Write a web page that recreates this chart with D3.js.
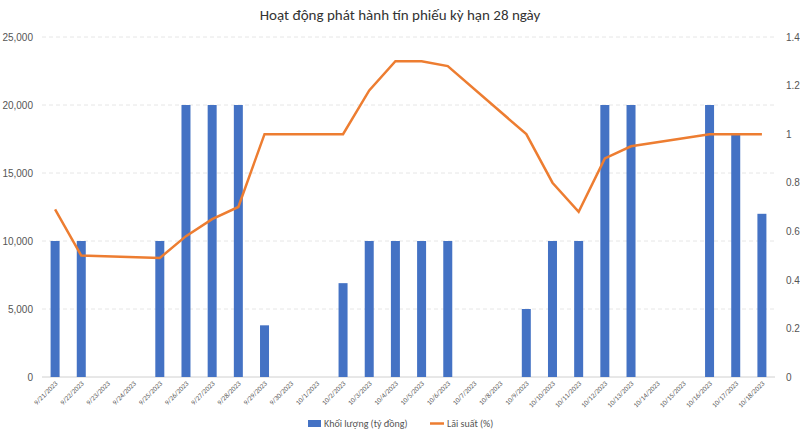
<!DOCTYPE html>
<html><head><meta charset="utf-8">
<script src="https://cdn.jsdelivr.net/npm/d3@7"></script>
<style>body{margin:0;background:#fff;font-family:Calibri,Carlito,"Liberation Sans",sans-serif}</style>
</head><body><div id="chart"></div>
<script>
var dates = ['9/21/2023','9/22/2023','9/23/2023','9/24/2023','9/25/2023','9/26/2023','9/27/2023','9/28/2023','9/29/2023','9/30/2023',
  '10/1/2023','10/2/2023','10/3/2023','10/4/2023','10/5/2023','10/6/2023','10/7/2023','10/8/2023','10/9/2023','10/10/2023',
  '10/11/2023','10/12/2023','10/13/2023','10/14/2023','10/15/2023','10/16/2023','10/17/2023','10/18/2023'];
var volume = [10000,10000,0,0,10000,20000,20000,20000,3800,0,0,6900,10000,10000,10000,10000,0,0,5000,10000,10000,20000,20000,0,0,20000,17800,12000];
var rate = [0.69,0.50,null,null,0.49,0.58,0.65,0.70,1.0,null,null,1.0,1.18,1.30,1.30,1.28,null,null,1.0,0.80,0.68,0.90,0.95,null,null,1.0,1.0,1.0];
var leftTicks = [0,5000,10000,15000,20000,25000];
var rightTicks = [0,0.2,0.4,0.6,0.8,1,1.2,1.4];

var W = 800, H = 434;
var svg = d3.select('#chart').append('svg').attr('width', W).attr('height', H);
var x = d3.scaleBand().domain(dates).range([42, 775]);
var yL = d3.scaleLinear().domain([0, 25000]).range([377, 37]);
var yR = d3.scaleLinear().domain([0, 1.4]).range([377, 37]);

svg.append('text').attr('x', 400).attr('y', 20).attr('text-anchor', 'middle')
  .attr('font-size', 15).attr('fill', '#333').text('Hoạt động phát hành tín phiếu kỳ hạn 28 ngày');

svg.selectAll('.grid').data(leftTicks.slice(1)).enter().append('line')
  .attr('x1', 42).attr('x2', 775).attr('y1', function(d){return yL(d);}).attr('y2', function(d){return yL(d);})
  .attr('stroke', '#e6e6e6').attr('stroke-dasharray', '4,3');
svg.append('line').attr('x1', 42).attr('x2', 775).attr('y1', 377).attr('y2', 377).attr('stroke', '#d0d0d0');

var axL = svg.append('g').attr('transform', 'translate(36,0)')
  .call(d3.axisLeft(yL).tickValues(leftTicks).tickSize(0).tickFormat(d3.format(',')));
var axR = svg.append('g').attr('transform', 'translate(783,0)')
  .call(d3.axisRight(yR).tickValues(rightTicks).tickSize(0).tickFormat(function(d){return d3.format('~g')(d);}));
[axL, axR].forEach(function(a){
  a.select('.domain').remove();
  a.selectAll('text').attr('font-size', 10).attr('fill', '#555');
});

svg.selectAll('.bar').data(volume).enter().append('rect')
  .attr('x', function(d, i){return x(dates[i]) + x.bandwidth()/2 - 4.5;})
  .attr('width', 9)
  .attr('y', function(d){return yL(d);})
  .attr('height', function(d){return 377 - yL(d);})
  .attr('fill', '#4472c4');

var pts = rate.map(function(r, i){return {d: dates[i], r: r};}).filter(function(p){return p.r !== null;});
svg.append('path').datum(pts)
  .attr('d', d3.line().x(function(p){return x(p.d) + x.bandwidth()/2;}).y(function(p){return yR(p.r);}))
  .attr('fill', 'none').attr('stroke', '#ed7d31').attr('stroke-width', 2.5);

svg.selectAll('.xl').data(dates).enter().append('text')
  .attr('transform', function(d){return 'translate(' + (x(d) + x.bandwidth()/2 + 3) + ',384) rotate(-45)';})
  .attr('text-anchor', 'end').attr('font-size', 7).attr('fill', '#555').text(function(d){return d;});

var lg = svg.append('g').attr('transform', 'translate(308,425)');
lg.append('rect').attr('x', 0).attr('y', -5).attr('width', 13).attr('height', 7).attr('fill', '#4472c4');
lg.append('text').attr('x', 16).attr('y', 2).attr('font-size', 10).attr('fill', '#555').text('Khối lượng (tỷ đồng)');
lg.append('line').attr('x1', 122).attr('x2', 136).attr('y1', -1.5).attr('y2', -1.5).attr('stroke', '#ed7d31').attr('stroke-width', 2.5);
lg.append('text').attr('x', 139).attr('y', 2).attr('font-size', 10).attr('fill', '#555').text('Lãi suất (%)');
</script></body></html>
